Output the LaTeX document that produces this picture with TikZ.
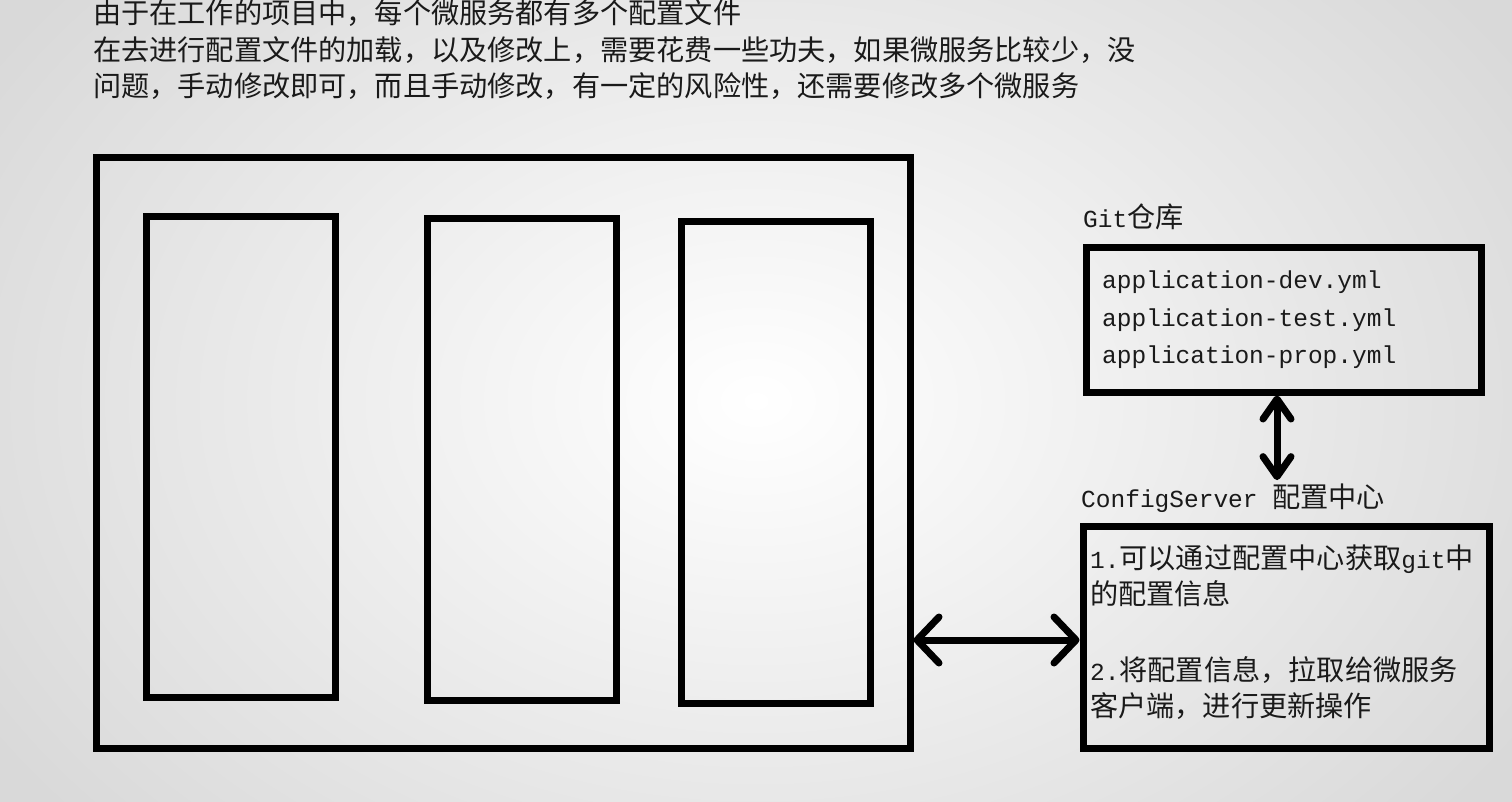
\documentclass[tikz,border=0pt]{standalone}
\usepackage{fontspec}
\setmainfont{Liberation Mono}
\newfontfamily\cjk[Scale=1.15]{Noto Sans CJK SC}
\usetikzlibrary{arrows.meta}
\newcommand{\zh}[1]{{\cjk #1}}
\definecolor{txt}{HTML}{1A1A1A}

\begin{document}
\begin{tikzpicture}[x=1pt,y=-1pt,
    box/.style={draw=black, line width=7pt, inner sep=0pt},
    lbl/.style={anchor=base west, inner sep=0pt, text=txt, font=\fontsize{24.5}{36}\selectfont},
    dbl/.style={line width=7pt, {Straight Barb[length=22pt,width=46pt,line cap=round,line join=round]}-{Straight Barb[length=22pt,width=46pt,line cap=round,line join=round]}},
    vdbl/.style={line width=7pt, {Straight Barb[length=20pt,width=28pt,line cap=round,line join=round]}-{Straight Barb[length=20pt,width=28pt,line cap=round,line join=round]}}]
  % 背景
  \useasboundingbox (0,0) rectangle (1512,802);
  \shade[inner color=white, outer color=black!15] (-150,-250) rectangle (1662,1052);

  % 说明文字
  \node[lbl] (l1) at (93,24) {\zh{由于在工作的项目中，每个微服务都有多个配置文件}};
  \node[lbl] (l2) at (93,60.5) {\zh{在去进行配置文件的加载，以及修改上，需要花费一些功夫，如果微服务比较少，没}};
  \node[lbl] (l3) at (93,97) {\zh{问题，手动修改即可，而且手动修改，有一定的风险性，还需要修改多个微服务}};

  % 微服务
  \node[box, minimum width=814pt, minimum height=590pt] (ms) at (503,453) {};
  \node[box, minimum width=189pt, minimum height=481pt] (ms1) at (241,457) {};
  \node[box, minimum width=189pt, minimum height=481pt] (ms2) at (522,459.5) {};
  \node[box, minimum width=189pt, minimum height=481pt] (ms3) at (775.5,462.5) {};

  % Git仓库
  \node[lbl] (gitlbl) at (1083,228) {Git\zh{仓库}};
  \node[box, minimum width=395pt, minimum height=144pt] (git) at (1283.5,320) {};
  \node[lbl] (f1) at (1102,289) {application-dev.yml};
  \node[lbl] (f2) at (1102,326) {application-test.yml};
  \node[lbl] (f3) at (1102,363) {application-prop.yml};

  % 配置中心
  \node[lbl] (cfglbl) at (1081,507) {ConfigServer \zh{配置中心}};
  \node[box, minimum width=406pt, minimum height=222pt] (cfg) at (1286,637) {};
  \node[lbl] (c1) at (1090,568) {1.\zh{可以通过配置中心获取}git\zh{中}};
  \node[lbl] (c2) at (1090,604) {\zh{的配置信息}};
  \node[lbl] (c3) at (1090,680) {2.\zh{将配置信息，拉取给微服务}};
  \node[lbl] (c4) at (1090,716) {\zh{客户端，进行更新操作}};

  % 箭头
  \draw[vdbl] ([xshift=-6.5pt]git.south) -- ([xshift=-6.5pt,yshift=3pt]git.south |- cfglbl.north);
  \draw[dbl] ([yshift=-3pt]ms.east |- cfg.center) -- ([yshift=-3pt]cfg.west);
\end{tikzpicture}
\end{document}
